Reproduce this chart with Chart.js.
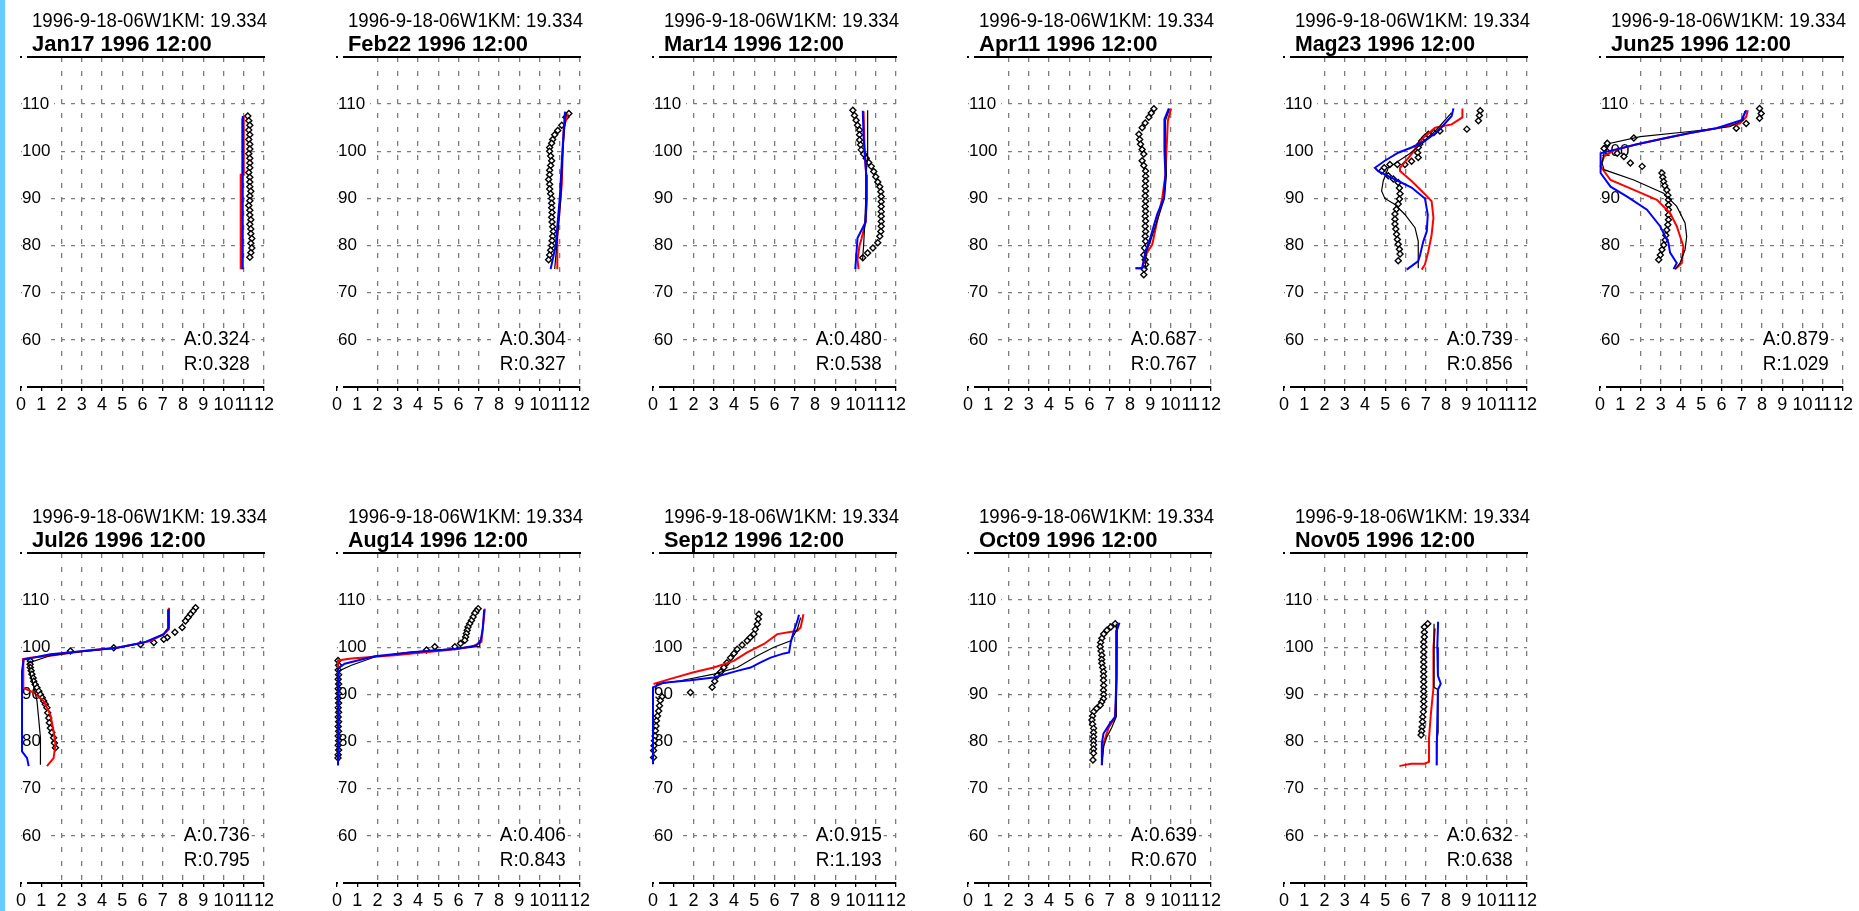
<!DOCTYPE html>
<html>
<head>
<meta charset="utf-8">
<script src="https://cdn.jsdelivr.net/npm/chart.js@4.4.1/dist/chart.umd.min.js"></script>
<style>
  html, body { margin: 0; padding: 0; background: #fff; overflow: hidden; }
  #strip { position: absolute; left: 0; top: 0; width: 5px; height: 911px; background: #66ccff; }
  canvas { position: absolute; }
</style>
</head>
<body>
<div id="strip"></div>
<div id="wrap"></div>
<script>
/* textes et valeurs */
const station = '1996-9-18-06W1KM: 19.334'
const dates = ['Jan17 1996 12:00', 'Feb22 1996 12:00', 'Mar14 1996 12:00', 'Apr11 1996 12:00',
  'Mag23 1996 12:00', 'Jun25 1996 12:00', 'Jul26 1996 12:00', 'Aug14 1996 12:00',
  'Sep12 1996 12:00', 'Oct09 1996 12:00', 'Nov05 1996 12:00']
const aScores = ['0.324', '0.304', '0.480', '0.687', '0.739', '0.879', '0.736', '0.406', '0.915', '0.639', '0.632']
const rScores = ['0.328', '0.327', '0.538', '0.767', '0.856', '1.029', '0.795', '0.843', '1.193', '0.670', '0.638']
const xTicks = [0, 1, 2, 3, 4, 5, 6, 7, 8, 9, 10, 11, 12]
const yTicks = [60, 70, 80, 90, 100, 110]

/* profils [temperature, profondeur] */
const jan17Red = [[11.0,107.5],[11.0,95],[10.85,95],[10.85,75]]
const jan17Blue = [[10.95,107.5],[10.95,75]]
const jan17Black = [[10.95,107],[10.92,75]]
const jan17Obs = [[11.2,107.5],[11.25,106.5],[11.3,105.5],[11.25,104.5],[11.3,103.5],[11.25,102.5],[11.3,101.5],[11.3,100.5],[11.25,99.5],[11.3,98.5],[11.3,97.5],[11.3,96.5],[11.25,95.5],[11.3,94.5],[11.3,93.5],[11.3,92.5],[11.35,91.5],[11.3,90.5],[11.3,89.5],[11.25,88.5],[11.3,87.5],[11.3,86.5],[11.35,85.5],[11.3,84.5],[11.35,83.5],[11.35,82.5],[11.4,81.5],[11.35,80.5],[11.4,79.5],[11.35,78.5],[11.3,77.5]]

const feb22Red = [[11.4,108],[11.2,105],[11.15,100],[11.1,93],[11.0,88],[10.88,82],[10.88,75]]
const feb22Blue = [[11.26,108.4],[11.13,100],[11.0,90],[10.8,80],[10.55,75]]
const feb22Black = [[11.3,108],[11.15,100],[11.05,90],[10.85,80],[10.75,75]]
const feb22Obs = [[11.45,108],[11.3,107.2],[11.1,105.5],[10.9,104.4],[10.75,103.5],[10.65,102.5],[10.6,101.7],[10.5,100.8],[10.5,100],[10.55,99],[10.6,98],[10.55,97],[10.5,96],[10.5,95],[10.45,94],[10.5,93],[10.5,92],[10.55,91],[10.6,90],[10.6,89],[10.6,88],[10.62,87],[10.6,86],[10.62,85],[10.65,84],[10.68,83],[10.65,82],[10.62,81],[10.6,80],[10.55,79],[10.5,78],[10.45,77]]

const mar14Red = [[10.4,108.5],[10.45,100],[10.53,95],[10.55,90],[10.5,85],[10.3,81.5],[10.2,80],[10.1,77],[10.15,75]]
const mar14Blue = [[10.36,108.6],[10.4,103],[10.45,100],[10.53,95],[10.55,90],[10.5,85],[10.1,81.6],[9.99,75]]
const mar14Black = [[10.6,108.7],[10.6,99],[10.52,95],[10.5,89],[10.45,84],[10.4,80],[10.35,77]]
const mar14Obs = [[9.87,108.7],[9.95,107.6],[10.03,106.6],[10.1,105.5],[10.2,104.5],[10.2,103.5],[10.2,102.4],[10.25,101.4],[10.28,100.3],[10.4,99.4],[10.53,98.5],[10.65,97.6],[10.78,96.8],[10.9,95.7],[11.0,94.6],[11.1,93.5],[11.2,92.5],[11.25,91.4],[11.27,90.4],[11.27,89.3],[11.27,88.3],[11.27,87.2],[11.27,86.2],[11.27,85.1],[11.27,84.1],[11.25,83],[11.2,82],[11.1,80.6],[10.86,79.5],[10.6,78.4],[10.36,77.4]]

const apr11Red = [[10.03,109.1],[9.87,106.5],[9.8,100],[9.75,95],[9.59,90],[9.34,85.2],[9.1,80.2],[8.77,78],[8.6,75.2],[8.27,75.2]]
const apr11Blue = [[9.92,109.1],[9.7,106.8],[9.7,100],[9.75,95],[9.67,90],[9.34,86.6],[9.0,81.6],[8.77,78.8],[8.6,75.2],[8.27,75.2]]
const apr11Black = [[9.95,109],[9.75,106.5],[9.75,100],[9.8,95],[9.7,90],[9.4,86],[9.05,81.5],[8.8,78.5],[8.75,75]]
const apr11Obs = [[9.18,109],[9.05,108.1],[8.93,107.2],[8.75,106],[8.6,105],[8.44,103.6],[8.48,102.5],[8.52,101.5],[8.6,100.4],[8.68,99.4],[8.6,98],[8.68,97],[8.77,95.8],[8.77,94.7],[8.77,93.7],[8.75,92.6],[8.77,91.6],[8.75,90.5],[8.77,89.4],[8.75,88.3],[8.77,87.3],[8.75,86.2],[8.77,85.2],[8.75,84.1],[8.77,83],[8.75,82],[8.77,80.9],[8.72,79.5],[8.68,78],[8.75,77],[8.77,76],[8.7,75],[8.68,73.8]]

const may23Red = [[8.81,109.1],[8.81,107.2],[8.28,105.7],[7.46,105],[6.88,102.9],[6.3,99.4],[5.73,96.5],[5.73,95.8],[6.3,93.7],[6.96,90.9],[7.29,89.4],[7.38,85.9],[7.29,82.3],[7.13,78.8],[6.96,76],[6.8,74.9]]
const may23Blue = [[8.37,109.1],[8.28,107.5],[7.62,104.3],[6.96,102.2],[6.3,100.8],[5.64,99.7],[4.98,98],[4.49,96.5],[4.65,95.8],[5.64,93.7],[6.3,92.3],[6.96,90],[7.1,86.6],[7.05,83],[6.88,80.9],[6.72,78],[6.63,76.7],[6.06,74.9]]
const may23Black = [[8.28,108.2],[7.62,105],[6.96,102.2],[6.2,99.5],[5.6,97.8],[5.15,96.5],[4.9,93.7],[4.82,91.6],[4.98,90],[5.48,88.7],[5.97,86.6],[6.47,83.8],[6.63,80.9],[6.63,78],[6.63,75.2]]
const may23Obs = [[9.69,108.6],[9.65,107.6],[9.6,106.5],[9.03,104.7],[7.7,104.3],[7.4,104],[7.13,103.6],[6.95,102.9],[6.8,102.2],[6.7,101.5],[6.63,100.8],[6.6,99.7],[6.63,98.7],[6.3,97.9],[5.97,97.2],[5.6,97.2],[5.23,97.2],[4.95,96.5],[4.82,95.8],[5.15,94.8],[5.4,94.1],[5.64,93.4],[5.7,92.2],[5.73,91],[5.7,89.9],[5.64,88.8],[5.55,87.7],[5.48,86.7],[5.48,85.6],[5.48,84.6],[5.52,83.5],[5.56,82.4],[5.6,81.3],[5.64,80.3],[5.7,79.2],[5.73,78.2],[5.64,76.8]]

const jun25Red = [[7.3,108.7],[7.22,107.3],[6.9,105.9],[5.75,104.9],[4.44,103.9],[3.14,102.7],[1.83,101.5],[0.69,100.2],[0.2,98.9],[0.03,96.8],[0.52,93.9],[1.67,91.8],[2.81,89.7],[3.46,86.9],[3.79,84.1],[4.12,79.8],[4.04,76.3],[3.71,75]]
const jun25Blue = [[7.22,108.7],[6.98,106.6],[5.75,104.9],[4.44,103.9],[3.14,102.7],[1.83,101.5],[0.69,100.3],[0.03,99.6],[0.03,95.4],[0.52,92.5],[1.34,90.4],[2.32,87.6],[2.97,84.1],[3.38,80.6],[3.46,78.5],[3.79,76.3],[3.63,75]]
const jun25Black = [[7.15,108.5],[7.06,106.6],[6.4,105.2],[4.44,104.2],[1.99,103.1],[0.52,101.7],[0.2,99.6],[0.1,97.5],[0.2,96.1],[1.67,93.9],[3.14,91.1],[3.79,88.3],[4.2,84.8],[4.28,81.9],[4.2,79.1],[3.95,76.3],[3.71,75]]
const jun25Obs = [[7.88,109.1],[7.96,108],[7.88,107],[7.22,105.9],[6.73,104.9],[1.67,102.8],[0.36,101.7],[0.2,100.6],[0.36,99.9],[0.85,99.6],[1.18,98.9],[1.5,97.5],[2.08,96.8],[3.06,95.4],[3.1,94.5],[3.14,93.6],[3.2,92.7],[3.3,91.8],[3.35,90.7],[3.38,89.7],[3.38,88.6],[3.38,87.6],[3.38,86.5],[3.38,85.5],[3.35,84.4],[3.3,83.3],[3.25,82.2],[3.22,81.2],[3.15,80.1],[3.06,79.1],[2.98,78],[2.9,77]]

const jul26Red = [[7.3,108.4],[7.3,103.8],[7.05,102.8],[6.39,101.3],[4.74,99.9],[3.1,99.2],[1.45,98.2],[0.46,97.8],[0.1,97.5],[0.1,92.5],[0.13,91.4],[0.63,90.4],[1.12,88.6],[1.45,85.7],[1.61,82.2],[1.7,79.4],[1.61,76.5],[1.28,74.8]]
const jul26Blue = [[7.3,108.1],[7.3,104.2],[7.05,102.8],[6.06,101],[4.74,99.9],[3.1,99.2],[1.45,98.5],[0.13,97.4],[0.05,95],[0.05,77.9],[0.3,76.5],[0.38,74.8]]
const jul26Black = [[7.25,108],[7.25,104],[7.0,102.6],[6.0,100.9],[4.7,99.8],[3.0,99.1],[1.5,98.3],[0.38,96.7],[0.46,94.3],[0.63,91.8],[0.79,88.6],[0.87,85],[0.96,80.8],[0.96,75.1]]
const jul26Obs = [[8.62,108.4],[8.5,107.7],[8.37,107],[8.25,106.3],[8.12,105.6],[7.96,104.2],[7.6,103.2],[7.22,102.1],[7.05,101.7],[6.56,101],[5.9,100.6],[4.58,99.9],[2.44,99.2],[0.46,97.1],[0.45,96.4],[0.46,95.7],[0.5,95],[0.54,94.3],[0.6,93.5],[0.63,92.8],[0.7,92.1],[0.79,91.4],[0.88,90.7],[0.96,90],[1.05,89.3],[1.12,88.6],[1.2,87.9],[1.28,87.2],[1.32,86.1],[1.37,85],[1.4,84],[1.45,82.9],[1.52,81.9],[1.61,80.8],[1.65,79.7],[1.7,78.7]]

const aug14Red = [[7.3,108.2],[7.2,104],[7.13,101.1],[6.64,100.1],[5.49,99.4],[2.85,98.3],[0.71,97.6],[0.05,97.2],[0.05,76]]
const aug14Blue = [[7.27,108],[7.2,104],[7.1,101.5],[6.89,100.4],[5.98,99.7],[3.84,99],[1.86,98.1],[0.38,96.5],[0.05,95.5],[0.05,74.9]]
const aug14Black = [[7.05,101.5],[7.05,100.2],[5.5,99.6],[3.5,98.9],[1.9,98],[0.71,96.2],[0.1,95],[0.1,76]]
const aug14Obs = [[6.97,108.2],[6.88,107.7],[6.8,107.2],[6.72,106.4],[6.64,105.7],[6.55,105],[6.47,104.3],[6.43,103.6],[6.39,102.9],[6.35,102.2],[6.31,101.5],[6.1,100.8],[5.82,100.1],[4.83,100.1],[4.42,99.4],[0.05,97.2],[0.08,96.2],[0.06,95.2],[0.08,94.2],[0.06,93.2],[0.08,92.2],[0.06,91.2],[0.08,90.2],[0.06,89.2],[0.08,88.2],[0.06,87.2],[0.08,86.2],[0.06,85.2],[0.08,84.2],[0.06,83.2],[0.08,82.2],[0.06,81.2],[0.08,80.2],[0.06,79.2],[0.08,78.2],[0.06,77.2],[0.05,76.5]]

const sep12Red = [[7.43,107],[7.29,104.2],[7.13,103.5],[6.14,102.8],[5.48,100.7],[4.65,98.9],[3.99,97.1],[3.0,95.7],[2.01,94.7],[0.86,93.3],[0.03,92.2]]
const sep12Blue = [[7.21,106.9],[7.13,105.6],[6.96,103.5],[6.8,101],[6.72,98.9],[6.47,98.7],[5.81,97.8],[5.31,96.8],[4.82,95.7],[4.16,95],[3.0,93.6],[1.85,93],[0.53,92.5],[0,91.5],[0,75.2]]
const sep12Black = [[7.29,106.3],[7.13,103.9],[6.8,101.4],[5.97,100],[5.15,98.2],[4.16,95.7],[3.0,94.3],[1.35,92.9],[0.2,92.2],[0.1,91]]
const sep12Obs = [[5.23,107],[5.2,106],[5.15,104.9],[5.05,103.8],[4.98,102.8],[4.8,102.1],[4.65,101.4],[4.4,100.5],[4.16,99.6],[4.0,98.7],[3.83,97.8],[3.65,96.7],[3.5,95.7],[3.35,94.8],[3.17,94],[3.05,92.8],[2.92,91.5],[1.85,90.4],[0.45,89.5],[0.36,88.7],[0.32,87.6],[0.28,86.5],[0.22,85.4],[0.17,84.4],[0.15,83.3],[0.12,82.3],[0.1,81.2],[0.07,80.2],[0.05,79.1],[0.03,78.1],[0.03,76.6]]

const oct09Red = [[7.4,105],[7.35,103.5],[7.35,96.6],[7.35,93.7],[7.3,88],[7.25,85],[6.95,83],[6.69,79.6],[6.61,75]]
const oct09Blue = [[7.48,105.2],[7.35,103.6],[7.32,93],[7.27,85.3],[7.02,83.9],[6.69,81.7],[6.61,79.6],[6.61,75]]
const oct09Black = [[7.35,105],[7.33,95],[7.32,85.3],[7.1,83],[6.86,81],[6.7,79],[6.61,75.4]]
const oct09Obs = [[7.27,105],[7.05,104.3],[6.86,103.6],[6.7,102.8],[6.61,101.9],[6.55,101],[6.53,100.1],[6.57,99.2],[6.61,98.3],[6.6,97.4],[6.61,96.6],[6.65,95.7],[6.69,94.8],[6.69,93.9],[6.69,93],[6.7,91.9],[6.69,90.9],[6.7,90],[6.69,89.1],[6.6,88.4],[6.53,87.7],[6.35,87],[6.2,86.3],[6.15,85.4],[6.12,84.6],[6.15,83.7],[6.2,82.8],[6.2,81.9],[6.2,81],[6.2,80.1],[6.2,79.3],[6.2,78.4],[6.2,77.5],[6.17,76.1]]

const nov05Red = [[7.45,104],[7.38,100],[7.38,91.4],[7.25,85.7],[7.16,80.7],[7.16,75.7],[6.93,75.3],[6.28,75.3],[5.79,74.9],[5.7,74.8]]
const nov05Blue = [[7.61,105.4],[7.57,100],[7.6,94],[7.74,92.3],[7.6,91],[7.55,80],[7.54,75]]
const nov05Black = [[7.41,105],[7.41,91.5],[7.61,91],[7.61,82],[7.54,80],[7.54,75]]
const nov05Obs = [[7.1,105],[6.93,104.3],[6.93,103.2],[6.93,102.2],[6.9,101.1],[6.9,100.1],[6.9,99],[6.9,97.9],[6.9,96.9],[6.9,95.8],[6.9,94.8],[6.9,93.7],[6.9,92.7],[6.9,91.6],[6.9,90.6],[6.9,89.5],[6.9,88.5],[6.9,87.4],[6.88,86.3],[6.85,85.2],[6.84,84.2],[6.82,83.1],[6.8,82.2],[6.77,81.4]]

const panels = [
  [jan17Red, jan17Blue, jan17Black, jan17Obs],
  [feb22Red, feb22Blue, feb22Black, feb22Obs],
  [mar14Red, mar14Blue, mar14Black, mar14Obs],
  [apr11Red, apr11Blue, apr11Black, apr11Obs],
  [may23Red, may23Blue, may23Black, may23Obs],
  [jun25Red, jun25Blue, jun25Black, jun25Obs],
  [jul26Red, jul26Blue, jul26Black, jul26Obs],
  [aug14Red, aug14Blue, aug14Black, aug14Obs],
  [sep12Red, sep12Blue, sep12Black, sep12Obs],
  [oct09Red, oct09Blue, oct09Black, oct09Obs],
  [nov05Red, nov05Blue, nov05Black, nov05Obs]
]

const sans = "'Liberation Sans', Arial, sans-serif"
const gridGray = '#7c7c7c'

const toXY = pts => pts.map(p => ({x: p[0], y: p[1]}))

// entete + scores A/R (texte compresse avec maxWidth)
const headerPlugin = {
    id: 'header',
    afterDraw(chart, args, opts) {
        const {ctx, chartArea, scales} = chart
        ctx.save()
        ctx.fillStyle = '#000'
        ctx.textAlign = 'left'
        ctx.textBaseline = 'alphabetic'
        ctx.font = '21px ' + sans
        ctx.fillText(station, chartArea.left + 11, chartArea.top - 30, 235)
        ctx.font = 'bold 22px ' + sans
        ctx.fillText(opts.date, chartArea.left + 11, chartArea.top - 6, 180)

        const a = 'A:' + opts.a
        const r = 'R:' + opts.r
        ctx.font = '21px ' + sans
        const xr = scales.x.getPixelForValue(11.3)
        const ya = scales.y.getPixelForValue(58.9)
        const yb = scales.y.getPixelForValue(53.6)
        const w = 66
        ctx.fillStyle = '#fff'
        ctx.fillRect(xr - w - 4, ya - 17, w + 6, yb - ya + 21)
        ctx.fillStyle = '#000'
        ctx.textAlign = 'right'
        ctx.fillText(a, xr, ya, w)
        ctx.fillText(r, xr, yb, w)
        ctx.restore()
    }
}

const wrap = document.getElementById('wrap')

panels.forEach((p, i) => {
    const col = i % 6
    const row = Math.floor(i / 6)
    const cv = document.createElement('canvas')
    cv.width = 300
    cv.height = 430
    cv.style.left = Math.round(col * 315.8) + 'px'
    cv.style.top = (row * 496) + 'px'
    cv.style.width = '300px'
    cv.style.height = '430px'
    wrap.appendChild(cv)

    new Chart(cv.getContext('2d'), {
        type: 'scatter',
        data: {
            datasets: [
                { label: 'blue', data: toXY(p[1]), showLine: true, borderColor: 'rgb(0,0,255)', borderWidth: 2, pointRadius: 0, clip: 4 },
                { label: 'black', data: toXY(p[2]), showLine: true, borderColor: 'rgb(0,0,0)', borderWidth: 1.2, pointRadius: 0, clip: 4 },
                { label: 'red', data: toXY(p[0]), showLine: true, borderColor: 'rgb(255,0,0)', borderWidth: 2, pointRadius: 0, clip: 4 },
                { label: 'obs', data: toXY(p[3]), showLine: false, pointStyle: 'rectRot', pointRadius: 3,
                  backgroundColor: '#fff', borderColor: '#000', borderWidth: 1.4, clip: 6 }
            ]
        },
        options: {
            responsive: false,
            animation: false,
            events: [],
            layout: { padding: { left: 21, right: 36, top: 57, bottom: 3 } },
            plugins: {
                legend: { display: false },
                tooltip: { enabled: false },
                header: { date: dates[i], a: aScores[i], r: rScores[i] }
            },
            scales: {
                x: {
                    type: 'linear', position: 'bottom', min: 0, max: 12,
                    afterFit: s => { s.height = 40 },
                    ticks: {
                        stepSize: 1, autoSkip: false, maxRotation: 0, padding: 3, color: '#000',
                        font: { family: sans, size: 18 },
                        callback: v => xTicks.includes(v) ? String(v) : ''
                    },
                    grid: {
                        color: c => (c.tick && c.tick.value >= 2) ? gridGray : 'rgba(0,0,0,0)',
                        lineWidth: 1.3, tickColor: '#000', tickLength: 4, tickWidth: 1.3, tickBorderDash: []
                    },
                    border: { color: '#000', width: 2, dash: [5, 9] }
                },
                x2: {
                    axis: 'x', type: 'linear', position: 'top', min: 0, max: 12,
                    afterFit: s => { s.height = 0 },
                    ticks: { display: false },
                    grid: { display: false },
                    border: { color: '#000', width: 2 }
                },
                y: {
                    type: 'linear', min: 50, max: 120,
                    afterFit: s => { s.width = 0 },
                    ticks: {
                        stepSize: 10, mirror: true, padding: 1, color: '#000',
                        font: { family: sans, size: 17 },
                        showLabelBackdrop: true, backdropColor: '#fff',
                        backdropPadding: { top: 0, bottom: 0, left: 0, right: 5 },
                        callback: v => yTicks.includes(v) ? String(v) : ''
                    },
                    grid: {
                        color: c => (c.tick && yTicks.includes(c.tick.value)) ? gridGray : 'rgba(0,0,0,0)',
                        lineWidth: 1.3, drawTicks: false
                    },
                    border: { display: false, dash: [4, 6] }
                }
            }
        },
        plugins: [headerPlugin]
    })
})
</script>
</body>
</html>
